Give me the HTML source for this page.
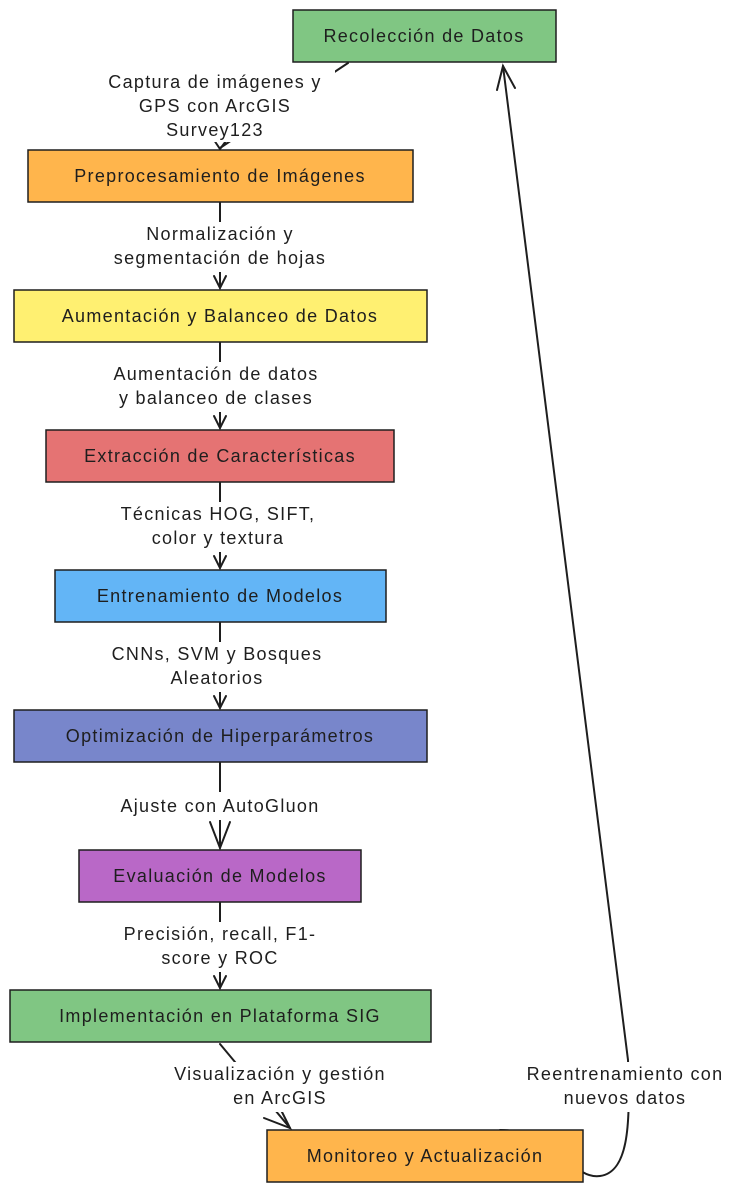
<!DOCTYPE html>
<html><head><meta charset="utf-8"><style>
html,body{margin:0;padding:0;background:#fff;}
svg{display:block}
text{font-family:"Liberation Sans",sans-serif;font-size:18px;letter-spacing:1.3px;fill:#1e1e1e;text-anchor:middle;}
.b{stroke:#1e1e1e;stroke-width:1.5}
.l{stroke:#1e1e1e;stroke-width:2;fill:none;stroke-linecap:round}
</style></head><body>
<svg width="742" height="1193" viewBox="0 0 742 1193" xmlns="http://www.w3.org/2000/svg">
<rect width="742" height="1193" fill="#fff"/>
<path class="l" d="M348 63 L220 148"/>
<path class="l" d="M214 140 L220 149 L226 141"/>
<path class="l" d="M220 203 L220 288"/><path class="l" d="M214 276 L220 288 L226 276"/>
<path class="l" d="M220 343 L220 428"/><path class="l" d="M214 416 L220 428 L226 416"/>
<path class="l" d="M220 483 L220 568"/><path class="l" d="M214 556 L220 568 L226 556"/>
<path class="l" d="M220 623 L220 708"/><path class="l" d="M214 696 L220 708 L226 696"/>
<path class="l" d="M220 763 L220 848"/><path class="l" d="M210 822 L220 848 L230 822"/>
<path class="l" d="M220 903 L220 988"/><path class="l" d="M214 976 L220 988 L226 976"/>
<path class="l" d="M220 1044 L290 1128"/><path class="l" d="M264 1118 L290 1128 L278 1104"/>
<path class="l" d="M500 1130 C560 1130 570 1180 600 1176 C630 1172 630 1120 628 1060 L503 66"/>
<path class="l" d="M497 90 L503 66 L515 88"/>
<rect x="95" y="68" width="240" height="74" fill="#fff"/>
<rect x="105" y="222" width="230" height="50" fill="#fff"/>
<rect x="100" y="362" width="230" height="50" fill="#fff"/>
<rect x="103" y="502" width="230" height="50" fill="#fff"/>
<rect x="100" y="642" width="235" height="50" fill="#fff"/>
<rect x="105" y="792" width="230" height="28" fill="#fff"/>
<rect x="115" y="922" width="210" height="50" fill="#fff"/>
<rect x="165" y="1062" width="230" height="50" fill="#fff"/>
<rect x="515" y="1062" width="222" height="50" fill="#fff"/>
<rect class="b" x="293" y="10" width="263" height="52" fill="#80c683"/>
<rect class="b" x="28" y="150" width="385" height="52" fill="#ffb54c"/>
<rect class="b" x="14" y="290" width="413" height="52" fill="#fff071"/>
<rect class="b" x="46" y="430" width="348" height="52" fill="#e57373"/>
<rect class="b" x="55" y="570" width="331" height="52" fill="#63b5f6"/>
<rect class="b" x="14" y="710" width="413" height="52" fill="#7886cb"/>
<rect class="b" x="79" y="850" width="282" height="52" fill="#b968c7"/>
<rect class="b" x="10" y="990" width="421" height="52" fill="#80c683"/>
<rect class="b" x="267" y="1130" width="316" height="52" fill="#ffb54c"/>
<text x="424" y="42">Recolección de Datos</text>
<text x="220" y="182">Preprocesamiento de Imágenes</text>
<text x="220" y="322">Aumentación y Balanceo de Datos</text>
<text x="220" y="462">Extracción de Características</text>
<text x="220" y="602">Entrenamiento de Modelos</text>
<text x="220" y="742">Optimización de Hiperparámetros</text>
<text x="220" y="882">Evaluación de Modelos</text>
<text x="220" y="1022">Implementación en Plataforma SIG</text>
<text x="425" y="1162">Monitoreo y Actualización</text>
<text x="215" y="88">Captura de imágenes y</text>
<text x="215" y="112">GPS con ArcGIS</text>
<text x="215" y="136">Survey123</text>
<text x="220" y="240">Normalización y</text>
<text x="220" y="264">segmentación de hojas</text>
<text x="216" y="380">Aumentación de datos</text>
<text x="216" y="404">y balanceo de clases</text>
<text x="218" y="520">Técnicas HOG, SIFT,</text>
<text x="218" y="544">color y textura</text>
<text x="217" y="660">CNNs, SVM y Bosques</text>
<text x="217" y="684">Aleatorios</text>
<text x="220" y="812">Ajuste con AutoGluon</text>
<text x="220" y="940">Precisión, recall, F1-</text>
<text x="220" y="964">score y ROC</text>
<text x="280" y="1080">Visualización y gestión</text>
<text x="280" y="1104">en ArcGIS</text>
<text x="625" y="1080">Reentrenamiento con</text>
<text x="625" y="1104">nuevos datos</text>
</svg>
</body></html>
